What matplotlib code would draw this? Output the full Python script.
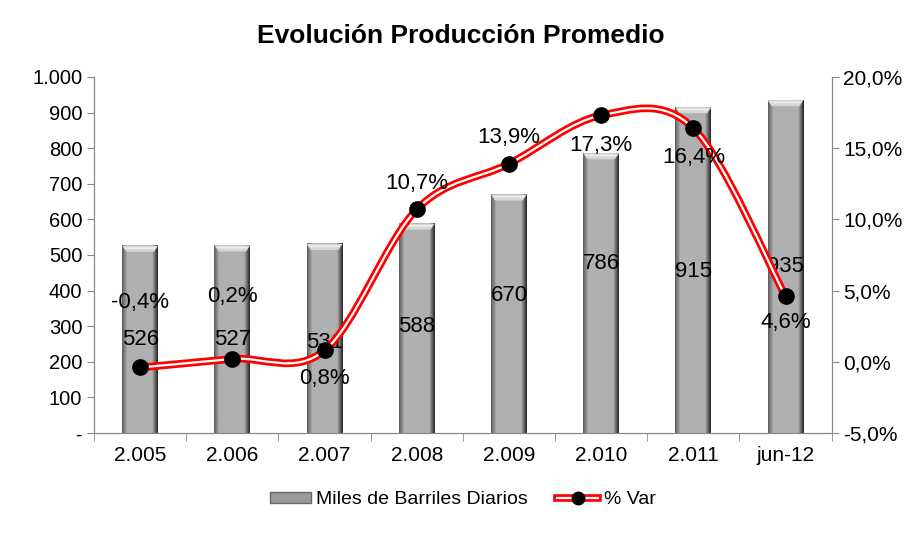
import numpy as np
import matplotlib.pyplot as plt
from matplotlib.path import Path
from matplotlib.patches import PathPatch, Polygon, Rectangle
from matplotlib.lines import Line2D
from matplotlib.legend_handler import HandlerTuple
from matplotlib.ticker import FuncFormatter

plt.rcParams['font.family'] = ['Liberation Sans', 'DejaVu Sans']

years = ['2.005', '2.006', '2.007', '2.008', '2.009', '2.010', '2.011', 'jun-12']
barrels = [526, 527, 531, 588, 670, 786, 915, 935]
pct_var = [-0.4, 0.2, 0.8, 10.7, 13.9, 17.3, 16.4, 4.6]
# label nudges (points) relative to default spots
bar_offsets = [0, 0, -3, 1, 13, 21, -1, 0]
pct_offsets = [47, 45, -20, 19, 19, -22, -21, -19]

fig = plt.figure(figsize=(9.22, 5.33), dpi=100)
ax = fig.add_axes([0.102, 0.1876, 0.8, 0.668])
ax2 = ax.twinx()

x = np.arange(len(years))
bar_w = 0.39

# bars with a bevelled grey gradient
grad = np.concatenate([np.linspace(0.38, 0.69, 6), np.full(24, 0.69), np.linspace(0.66, 0.18, 6)])
grad_img = np.tile(grad, (2, 1))
ax.bar(x, barrels, width=bar_w, color='none', zorder=2)
for xi, v, off in zip(x, barrels, bar_offsets):
    ax.imshow(grad_img, cmap='gray', vmin=0, vmax=1, aspect='auto',
              extent=[xi - bar_w / 2, xi + bar_w / 2, 0, v], zorder=2, interpolation='bilinear')
    bev = 17
    top = Polygon([[xi - bar_w / 2, v], [xi + bar_w / 2, v],
                   [xi + bar_w / 2 - 0.045, v - bev], [xi - bar_w / 2 + 0.045, v - bev]],
                  closed=True, facecolor='#d6d6d6', edgecolor='none', zorder=3)
    ax.add_patch(top)
    ax.add_patch(Polygon([[xi - bar_w / 2 + 0.02, v - 4], [xi + bar_w / 2 - 0.02, v - 4],
                          [xi + bar_w / 2 - 0.035, v - 9], [xi - bar_w / 2 + 0.035, v - 9]],
                         closed=True, facecolor='#ececec', edgecolor='none', zorder=3))
    ax.annotate(str(v), (xi, v / 2), xytext=(0, off), textcoords='offset points',
                ha='center', va='center', fontsize=16, zorder=6)

ax.set_xlim(-0.5, len(years) - 0.5)
ax.set_ylim(0, 1000)
ax.set_yticks(np.arange(0, 1001, 100))
ax.yaxis.set_major_formatter(FuncFormatter(lambda v, p: '-' if v == 0 else f'{int(v):,}'.replace(',', '.')))
ax.set_xticks(x)
ax.set_xticklabels(years)
ax.set_xticks(np.arange(-0.5, len(years), 1), minor=True)
ax.tick_params(axis='x', which='major', length=0, labelsize=15, pad=9)
ax.tick_params(axis='x', which='minor', length=6, color='#888888', direction='out')
ax.tick_params(axis='y', labelsize=14.5, length=5, color='#888888')

ax2.set_ylim(-5, 20)
ax2.set_yticks(np.arange(-5, 20.1, 5))
ax2.yaxis.set_major_formatter(FuncFormatter(lambda v, p: f'{v:.1f}%'.replace('.', ',')))
ax2.tick_params(axis='y', labelsize=15, length=5, color='#888888')

for a in (ax, ax2):
    a.spines['top'].set_visible(False)
    for s in ('left', 'right', 'bottom'):
        a.spines[s].set_color('#888888')

# smoothed % line (Catmull-Rom as Bezier segments)
pts = np.column_stack([x, pct_var]).astype(float)
verts = [pts[0]]
codes = [Path.MOVETO]
n = len(pts)
for i in range(n - 1):
    p0 = pts[max(i - 1, 0)]
    p1 = pts[i]
    p2 = pts[i + 1]
    p3 = pts[min(i + 2, n - 1)]
    c1 = p1 + (p2 - p0) / 6
    c2 = p2 - (p3 - p1) / 6
    verts += [c1, c2, p2]
    codes += [Path.CURVE4] * 3
curve = Path(verts, codes)
ax2.add_patch(PathPatch(curve, facecolor='none', edgecolor='#ff0000', lw=5.5, zorder=4))
ax2.add_patch(PathPatch(curve, facecolor='none', edgecolor='white', lw=1.6, zorder=4))
ax2.plot(x, pct_var, 'o', color='black', markersize=11, zorder=5)

for xi, v, off in zip(x, pct_var, pct_offsets):
    ax2.annotate(f'{v:.1f}%'.replace('.', ','), (xi, v), xytext=(0, off), textcoords='offset points',
                 ha='center', va='center', fontsize=16, zorder=6)

fig.suptitle('Evolución Producción Promedio', fontsize=19, fontweight='bold', y=0.955)

h_bar = Rectangle((0, 0), 1, 1, facecolor='#9a9a9a', edgecolor='#666666')
h_red = Line2D([], [], color='#ff0000', lw=5.5)
h_in = Line2D([], [], color='white', lw=1.6, marker='o', markersize=9, markerfacecolor='black',
              markeredgecolor='black')
fig.legend([h_bar, (h_red, h_in)], ['Miles de Barriles Diarios', '% Var'],
           handler_map={tuple: HandlerTuple(ndivide=1)},
           loc='center', bbox_to_anchor=(0.502, 0.062), ncol=2, frameon=False, fontsize=14,
           handlelength=2.1, handleheight=0.45, columnspacing=1.5, handletextpad=0.3)

fig.savefig('out.png', dpi=100)
